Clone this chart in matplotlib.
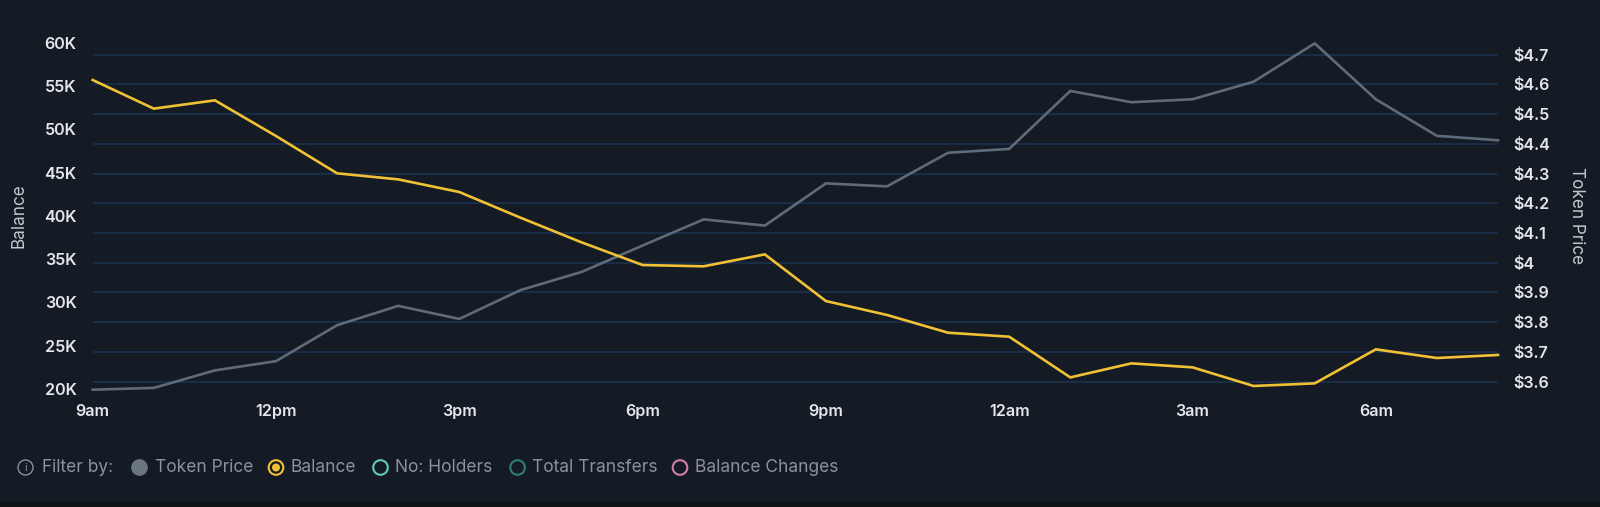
import matplotlib
matplotlib.use("Agg")
import matplotlib.pyplot as plt
from matplotlib.patches import Circle
from matplotlib.ticker import FuncFormatter, FixedLocator

# ---------------- data ----------------
hours = ["9am", "10am", "11am", "12pm", "1pm", "2pm", "3pm", "4pm", "5pm", "6pm",
         "7pm", "8pm", "9pm", "10pm", "11pm", "12am", "1am", "2am", "3am", "4am",
         "5am", "6am", "7am", "8am"]
token_price = [3.573, 3.579, 3.638, 3.669, 3.790, 3.855, 3.811, 3.908, 3.969, 4.058,
               4.146, 4.125, 4.267, 4.257, 4.370, 4.383, 4.578, 4.540, 4.550, 4.609,
               4.738, 4.550, 4.427, 4.412]
balance_k = [55.69, 52.38, 53.34, 49.22, 44.91, 44.21, 42.75, 39.79, 36.94, 34.32,
             34.17, 35.55, 30.16, 28.55, 26.50, 26.04, 21.34, 22.96, 22.50, 20.35,
             20.65, 24.58, 23.58, 23.93]
tick_hours = ["9am", "12pm", "3pm", "6pm", "9pm", "12am", "3am", "6am"]
balance_ticks = [20, 25, 30, 35, 40, 45, 50, 55, 60]
price_ticks = [3.6, 3.7, 3.8, 3.9, 4.0, 4.1, 4.2, 4.3, 4.4, 4.5, 4.6, 4.7]
legend_labels = ["Token Price", "Balance", "No: Holders", "Total Transfers", "Balance Changes"]

# ---------------- style ----------------
BG = "#151b24"
GRID = "#1c3150"
YELLOW = "#f0c035"
GRAY = "#5f6b78"
TICK = "#e4e6e9"
TITLE = "#c3c7cd"
LEG = "#8b929c"

plt.rcParams['font.family'] = ['Inter', 'DejaVu Sans']

W, H = 1600, 507
fig = plt.figure(figsize=(W / 100, H / 100), dpi=100, facecolor=BG)

# axes placement in pixels
x0, x1 = 92.7, 1498.0
ytop, ybot = 42.67, 389.0
ax = fig.add_axes([x0 / W, 1 - ybot / H, (x1 - x0) / W, (ybot - ytop) / H])
ax.set_facecolor(BG)
ax2 = ax.twinx()

xs = list(range(len(hours)))
ax.set_xlim(0, len(hours) - 1)
ax.set_ylim(20, 60)
# right axis: $3.6 gridline at y=381.67, $4.7 at y=54.67
ppu = (381.67 - 54.67) / 1.1
ax2.set_ylim(3.6 - (ybot - 381.67) / ppu, 4.7 + (54.67 - ytop) / ppu)

for a in (ax, ax2):
    for s in a.spines.values():
        s.set_visible(False)

TS = 11.6
# gridlines from right axis ticks
ax2.yaxis.set_major_locator(FixedLocator(price_ticks))
ax2.grid(True, axis='y', color=GRID, linewidth=1.2)
ax2.yaxis.set_major_formatter(FuncFormatter(lambda v, p: "$4" if abs(v - 4.0) < 1e-6 else "$%.1f" % v))
ax2.tick_params(axis='y', length=0, pad=11, labelsize=TS, labelcolor=TICK)
for t in ax2.get_yticklabels():
    t.set_fontweight(600)

ax.yaxis.set_major_locator(FixedLocator(balance_ticks))
ax.yaxis.set_major_formatter(FuncFormatter(lambda v, p: "%dK" % v))
ax.tick_params(axis='y', length=0, pad=11.5, labelsize=TS, labelcolor=TICK)
ax.tick_params(axis='x', length=0, pad=11, labelsize=TS, labelcolor=TICK)
ax.set_xticks([hours.index(h) for h in tick_hours])
ax.set_xticklabels(tick_hours)
for t in ax.get_yticklabels() + ax.get_xticklabels():
    t.set_fontweight(600)

# lines
ax2.plot(xs, token_price, color=GRAY, linewidth=1.9, clip_on=False, zorder=3,
         solid_joinstyle='miter')
ax.set_zorder(ax2.get_zorder() + 1)
ax.patch.set_visible(False)
ax2.patch.set_visible(True)
ax2.patch.set_facecolor(BG)
ax.plot(xs, balance_k, color=YELLOW, linewidth=1.9, clip_on=False, zorder=4,
        solid_joinstyle='miter')

# axis titles
fig.text(19 / W, 1 - 216 / H, "Balance", rotation=90, ha='center', va='center',
         fontsize=12.3, color=TITLE)
fig.text(1577 / W, 1 - 216 / H, "Token Price", rotation=270, ha='center', va='center',
         fontsize=12.3, color=TITLE)

# legend overlay in pixel coordinates
lg = fig.add_axes([0, 0, 1, 1])
lg.set_xlim(0, W)
lg.set_ylim(H, 0)
lg.axis('off')
lg.patch.set_visible(False)

# bottom darker strip
lg.add_patch(plt.Rectangle((0, 502), W, 6, facecolor="#0f1318", edgecolor='none'))

ly = 467.5
# info icon
lg.add_patch(Circle((25.5, ly), 7.5, facecolor='none', edgecolor=LEG, linewidth=1.0))
lg.text(25.5, ly + 0.5, "i", ha='center', va='center', fontsize=8, color=LEG)
lg.text(42, ly, "Filter by:", ha='left', va='center', fontsize=12.5, color=LEG)

circ_x = [139.5, 276.0, 380.5, 517.6, 680.0]
text_x = [155.0, 290.7, 394.6, 532.2, 694.9]
styles = [
    dict(face="#6b7683", edge="#6b7683", dot=None),
    dict(face='none', edge=YELLOW, dot=YELLOW),
    dict(face='none', edge="#63c9bd", dot=None),
    dict(face='none', edge="#2f7d77", dot=None),
    dict(face='none', edge="#d47fa6", dot=None),
]
for cx, tx, lab, st in zip(circ_x, text_x, legend_labels, styles):
    lg.add_patch(Circle((cx, ly), 7.3, facecolor=st['face'], edgecolor=st['edge'],
                        linewidth=1.5))
    if st['dot']:
        lg.add_patch(Circle((cx, ly), 4.0, facecolor=st['dot'], edgecolor='none'))
    lg.text(tx, ly, lab, ha='left', va='center', fontsize=12.5, color=LEG)

fig.savefig("out.png", dpi=100, facecolor=BG)
